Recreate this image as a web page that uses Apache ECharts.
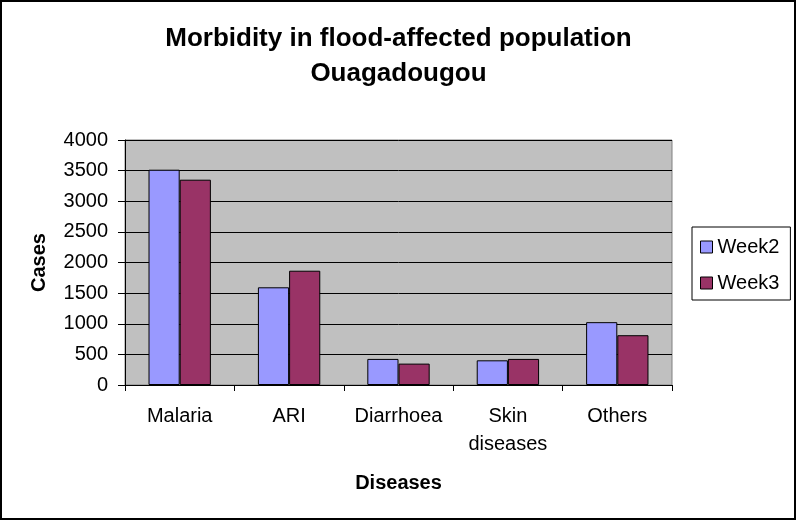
<!DOCTYPE html>
<html>
<head>
<meta charset="utf-8">
<script src="https://cdn.jsdelivr.net/npm/echarts@6/dist/echarts.min.js"></script>
<style>
html,body{margin:0;padding:0;background:#fff;}
#chart{width:797px;height:521px;}
</style>
</head>
<body>
<div id="chart"></div>
<script>
const categories = ["Malaria", "ARI", "Diarrhoea", "Skin diseases", "Others"];
const week2 = [3515, 1595, 426, 403, 1026];
const week3 = [3352, 1866, 349, 426, 813];
const yTicks = { min: 0, max: 4000, interval: 500 };

const FONT = "'Liberation Sans', Arial, sans-serif";
const chart = echarts.init(document.getElementById('chart'), null, { renderer: 'canvas' });
chart.setOption({
  backgroundColor: '#ffffff',
  animation: false,
  title: {
    text: 'Morbidity in flood-affected population\nOuagadougou',
    left: 'center',
    top: 21,
    padding: 0,
    textStyle: { fontFamily: FONT, fontSize: 26, fontWeight: 'bold', color: '#000', lineHeight: 35 }
  },
  legend: {
    orient: 'vertical',
    left: 692,
    top: 227,
    padding: [10, 11, 7, 8],
    itemWidth: 12,
    itemHeight: 12,
    itemGap: 16,
    icon: 'rect',
    borderColor: '#000',
    borderWidth: 1,
    backgroundColor: '#fff',
    itemStyle: { borderColor: '#000', borderWidth: 1 },
    textStyle: { fontFamily: FONT, fontSize: 20, color: '#000' },
    data: ['Week2', 'Week3']
  },
  grid: {
    left: 125, right: 125, top: 140, bottom: 136,
    show: true, backgroundColor: '#c0c0c0', borderColor: '#808080', borderWidth: 1,
    containLabel: false
  },
  xAxis: {
    type: 'category',
    data: categories,
    name: 'Diseases',
    nameLocation: 'middle',
    nameGap: 88,
    nameTextStyle: { fontFamily: FONT, fontSize: 20, fontWeight: 'bold', color: '#000' },
    axisLine: { lineStyle: { color: '#000', width: 1 } },
    axisTick: { show: true, length: 6, lineStyle: { color: '#000' } },
    axisLabel: {
      fontFamily: FONT, fontSize: 20, color: '#000', margin: 17, lineHeight: 28, interval: 0,
      formatter: v => v.replace(' ', '\n')
    },
    splitLine: { show: false }
  },
  yAxis: {
    type: 'value',
    min: yTicks.min, max: yTicks.max, interval: yTicks.interval,
    name: 'Cases',
    nameLocation: 'middle',
    nameRotate: 90,
    nameGap: 76,
    nameTextStyle: { fontFamily: FONT, fontSize: 20, fontWeight: 'bold', color: '#000' },
    axisLine: { show: true, lineStyle: { color: '#000', width: 1 } },
    axisTick: { show: true, length: 7, lineStyle: { color: '#000' } },
    axisLabel: { fontFamily: FONT, fontSize: 20, color: '#000', margin: 17, formatter: v => String(v) },
    splitLine: { show: true, lineStyle: { color: '#000', width: 1 } }
  },
  series: [
    {
      name: 'Week2', type: 'bar', data: week2,
      barGap: '0%', barCategoryGap: '43%',
      itemStyle: { color: '#9999ff', borderColor: '#000', borderWidth: 1 }
    },
    {
      name: 'Week3', type: 'bar', data: week3,
      barGap: '0%', barCategoryGap: '43%',
      itemStyle: { color: '#993366', borderColor: '#000', borderWidth: 1 }
    }
  ],
  graphic: [{
    type: 'rect', silent: true, z: 100,
    shape: { x: 1, y: 1, width: 794, height: 518 },
    style: { fill: null, stroke: '#000', lineWidth: 2 }
  }]
});
</script>
</body>
</html>
